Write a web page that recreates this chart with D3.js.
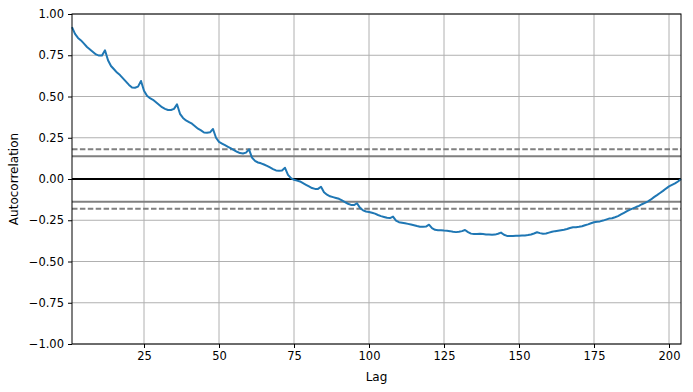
<!DOCTYPE html>
<html>
<head>
<meta charset="utf-8">
<script src="https://cdn.jsdelivr.net/npm/d3@7"></script>
<style>
  body { margin: 0; background: #fff; }
  svg text { font-family: "DejaVu Sans", sans-serif; fill: #000; }
</style>
</head>
<body>
<div id="vis"></div>
<script>
// autocorrelation values for lags 1..204
const ACF = [
  0.92, 0.88, 0.855, 0.84, 0.82, 0.80, 0.785, 0.77, 0.755, 0.748, 0.748, 0.78,
  0.72, 0.685, 0.665, 0.645, 0.63, 0.61, 0.59, 0.57, 0.555, 0.553, 0.56, 0.594,
  0.535, 0.505, 0.49, 0.48, 0.465, 0.45, 0.435, 0.425, 0.418, 0.418, 0.425, 0.453,
  0.395, 0.37, 0.355, 0.345, 0.335, 0.32, 0.305, 0.295, 0.282, 0.28, 0.283, 0.303,
  0.25, 0.225, 0.215, 0.205, 0.195, 0.185, 0.175, 0.165, 0.157, 0.155, 0.16, 0.18,
  0.13, 0.11, 0.10, 0.095, 0.088, 0.08, 0.07, 0.06, 0.052, 0.05, 0.052, 0.068,
  0.025, 0.005, -0.005, -0.01, -0.015, -0.025, -0.035, -0.045, -0.055, -0.06, -0.06, -0.047,
  -0.08, -0.095, -0.105, -0.11, -0.115, -0.12, -0.13, -0.14, -0.15, -0.157, -0.158, -0.147,
  -0.175, -0.19, -0.197, -0.2, -0.205, -0.21, -0.218, -0.225, -0.23, -0.235, -0.237, -0.228,
  -0.252, -0.262, -0.265, -0.268, -0.272, -0.276, -0.28, -0.285, -0.289, -0.29, -0.288, -0.277,
  -0.298, -0.308, -0.31, -0.31, -0.312, -0.313, -0.316, -0.32, -0.322, -0.32, -0.316, -0.309,
  -0.322, -0.331, -0.334, -0.333, -0.332, -0.334, -0.336, -0.337, -0.338, -0.337, -0.332, -0.325,
  -0.338, -0.345, -0.346, -0.345, -0.344, -0.344, -0.343, -0.342, -0.34, -0.336, -0.33, -0.323,
  -0.328, -0.332, -0.33, -0.325, -0.32, -0.316, -0.313, -0.31, -0.307, -0.303, -0.297, -0.292,
  -0.292, -0.29, -0.286, -0.28, -0.275, -0.268, -0.262, -0.259, -0.257, -0.252, -0.246, -0.24,
  -0.238, -0.232, -0.225, -0.215, -0.205, -0.195, -0.186, -0.178, -0.17, -0.163, -0.153, -0.145,
  -0.135, -0.124, -0.11, -0.098, -0.085, -0.072, -0.058, -0.045, -0.036, -0.027, -0.015, 0.0
];
const LAGS = ACF.map((d, i) => i + 1);

const X_TICKS = [25, 50, 75, 100, 125, 150, 175, 200];
const Y_TICKS = [-1, -0.75, -0.5, -0.25, 0, 0.25, 0.5, 0.75, 1];

// confidence bands (95% solid, 99% dashed)
const Z95 = 1.959963984540054;
const Z99 = 2.5758293035489;
const N = ACF.length;
const BANDS = [
  { y: Z99 / Math.sqrt(N), dash: "5.5,2.4", color: "grey" },
  { y: Z95 / Math.sqrt(N), dash: null, color: "grey" },
  { y: 0, dash: null, color: "black" },
  { y: -Z95 / Math.sqrt(N), dash: null, color: "grey" },
  { y: -Z99 / Math.sqrt(N), dash: "5.5,2.4", color: "grey" }
];

const WIDTH = 693;
const HEIGHT = 392;
const LEFT = 72, RIGHT = 681, TOP = 14, BOTTOM = 344;

const xScale = d3.scaleLinear([1, N], [LEFT, RIGHT]);
const yScale = d3.scaleLinear([-1, 1], [BOTTOM, TOP]);

const svg = d3.select("#vis")
  .append("svg")
    .attr("width", WIDTH)
    .attr("height", HEIGHT);

// grid
svg.append("g")
  .selectAll("line")
  .data(X_TICKS)
  .enter()
  .append("line")
    .attr("x1", d => xScale(d)).attr("x2", d => xScale(d))
    .attr("y1", TOP).attr("y2", BOTTOM)
    .attr("stroke", "#b0b0b0").attr("stroke-width", 1);

svg.append("g")
  .selectAll("line")
  .data(Y_TICKS)
  .enter()
  .append("line")
    .attr("x1", LEFT).attr("x2", RIGHT)
    .attr("y1", d => yScale(d)).attr("y2", d => yScale(d))
    .attr("stroke", "#b0b0b0").attr("stroke-width", 1);

// axhlines
svg.append("g")
  .selectAll("line")
  .data(BANDS)
  .enter()
  .append("line")
    .attr("x1", LEFT).attr("x2", RIGHT)
    .attr("y1", d => yScale(d.y)).attr("y2", d => yScale(d.y))
    .attr("stroke", d => d.color)
    .attr("stroke-width", 2)
    .attr("stroke-dasharray", d => d.dash);

// the autocorrelation line
const line = d3.line()
  .x((d, i) => xScale(LAGS[i]))
  .y(d => yScale(d));

svg.append("path")
  .datum(ACF)
  .attr("d", line)
  .attr("fill", "none")
  .attr("stroke", "#1f77b4")
  .attr("stroke-width", 2)
  .attr("stroke-linejoin", "round");

// axes
const fmtY = d => d3.format(".2f")(d).replace("-", "\u2212");

const xAxis = svg.append("g")
  .attr("transform", `translate(0, ${BOTTOM})`)
  .call(d3.axisBottom(xScale).tickValues(X_TICKS).tickSize(4).tickPadding(4));

const yAxis = svg.append("g")
  .attr("transform", `translate(${LEFT}, 0)`)
  .call(d3.axisLeft(yScale).tickValues(Y_TICKS).tickFormat(fmtY).tickSize(4).tickPadding(4));

[xAxis, yAxis].forEach(g => {
  g.select(".domain").remove();
  g.selectAll("text").style("font-size", "11.5px").style("font-family", "DejaVu Sans");
  g.selectAll("line").attr("stroke", "#000").attr("stroke-width", 1);
});

// frame
svg.append("rect")
  .attr("x", LEFT).attr("y", TOP)
  .attr("width", RIGHT - LEFT).attr("height", BOTTOM - TOP)
  .attr("fill", "none").attr("stroke", "#000").attr("stroke-width", 1);

svg.append("text")
  .attr("x", (LEFT + RIGHT) / 2).attr("y", 381)
  .attr("text-anchor", "middle")
  .style("font-size", "12px")
  .text("Lag");

svg.append("text")
  .attr("transform", `translate(18, ${(TOP + BOTTOM) / 2}) rotate(-90)`)
  .attr("text-anchor", "middle")
  .style("font-size", "12px")
  .text("Autocorrelation");
</script>
</body>
</html>
